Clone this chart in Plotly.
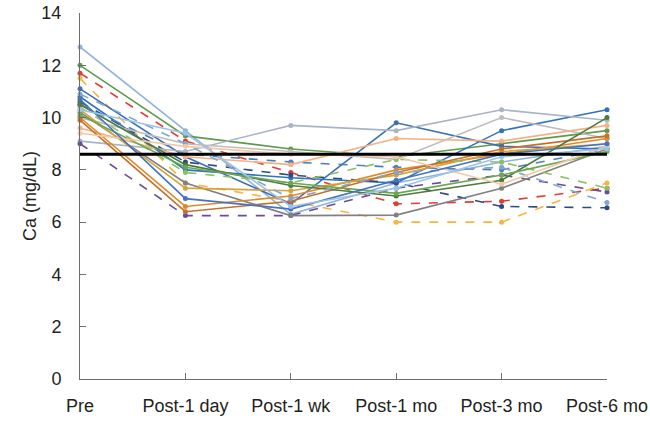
import plotly.graph_objects as go

categories = ["Pre", "Post-1 day", "Post-1 wk", "Post-1 mo", "Post-3 mo", "Post-6 mo"]
y_ticks = [0, 2, 4, 6, 8, 10, 12, 14]
reference_value = 8.6

s01 = [12.7, 9.5, 6.3, 7.5, 8.3, 8.9]
s02 = [12.0, 9.3, 8.8, 8.5, 9.0, 9.5]
s03 = [11.7, 9.1, 7.9, 6.7, 6.8, 7.3]
s04 = [11.5, 7.5, 6.8, 6.0, 6.0, 7.5]
s05 = [11.1, 8.5, 6.7, 9.8, 8.9, 8.8]
s06 = [10.8, 8.0, 7.7, 7.5, 9.5, 10.3]
s07 = [10.6, 8.3, 7.8, 7.5, 6.6, 6.55]
s08 = [10.5, 8.6, 8.3, 8.1, 8.0, 8.8]
s09 = [9.1, 8.7, 9.7, 9.5, 10.3, 9.9]
s10 = [10.0, 9.0, 8.7, 8.4, 10.0, 9.2]
s11 = [9.6, 8.5, 8.2, 9.2, 9.1, 9.7]
s12 = [9.0, 6.25, 6.25, 7.3, 7.8, 7.15]
s13 = [10.2, 7.5, 6.25, 6.27, 7.3, 8.8]
s14 = [10.0, 6.6, 7.0, 8.0, 8.6, 9.2]
s15 = [10.3, 7.3, 7.2, 7.8, 8.7, 9.0]
s16 = [9.9, 6.4, 6.8, 7.9, 8.8, 9.3]
s17 = [10.4, 7.9, 7.5, 8.4, 8.3, 7.3]
s18 = [10.5, 8.2, 7.4, 7.0, 7.6, 10.0]
s19 = [10.9, 9.0, 6.9, 7.9, 8.1, 6.75]
s20 = [10.1, 8.1, 7.5, 7.1, 7.8, 8.7]
s21 = [9.4, 8.9, 8.6, 8.5, 7.45, 8.9]
s22 = [10.7, 6.9, 6.5, 7.6, 8.6, 9.0]
s23 = [10.3, 9.4, 6.6, 7.3, 8.5, 8.8]

series = [
    (s01, "#8fb3d9", "solid"),
    (s02, "#5f9a4a", "solid"),
    (s03, "#e03c31", "dash"),
    (s04, "#f5b53f", "dash"),
    (s05, "#3b6fb6", "solid"),
    (s06, "#2f72c0", "solid"),
    (s07, "#2b4c7e", "dash"),
    (s08, "#4a7fc0", "dash"),
    (s09, "#a9b4c4", "solid"),
    (s10, "#bdbdbd", "solid"),
    (s11, "#f4b183", "solid"),
    (s12, "#6b4c9a", "dash"),
    (s13, "#808080", "solid"),
    (s14, "#e0892a", "solid"),
    (s15, "#d6a23a", "solid"),
    (s16, "#c8702a", "solid"),
    (s17, "#8cc068", "dash"),
    (s18, "#4e7a3a", "solid"),
    (s19, "#7fa7d0", "dash"),
    (s20, "#6aa84f", "solid"),
    (s21, "#f2c9a8", "solid"),
    (s22, "#4472c4", "solid"),
    (s23, "#9dc3e6", "solid"),
]

x = list(range(len(categories)))
fig = go.Figure()
for vals, col, dash in series:
    fig.add_trace(go.Scatter(
        x=x, y=vals, mode="lines+markers",
        line=dict(color=col, width=1.6, dash=dash),
        marker=dict(color=col, size=5),
        showlegend=False, hoverinfo="skip", cliponaxis=False,
    ))

fig.add_trace(go.Scatter(
    x=[x[0], x[-1]], y=[reference_value, reference_value], mode="lines",
    line=dict(color="black", width=3), showlegend=False, hoverinfo="skip",
))

fig.update_layout(
    width=650, height=421,
    margin=dict(l=80, r=43, t=13, b=42),
    paper_bgcolor="white", plot_bgcolor="white",
    font=dict(family="Liberation Sans, Arial, sans-serif", size=18, color="#231f20"),
    xaxis=dict(
        range=[0, 5], tickmode="array", tickvals=x, ticktext=categories,
        showgrid=False, zeroline=False, showline=True, linecolor="#6d6d6d", linewidth=1,
        ticks="inside", ticklen=6, tickcolor="#6d6d6d", automargin=False,
        tickfont=dict(size=18), ticklabelstandoff=10,
    ),
    yaxis=dict(
        range=[0, 14], tickmode="array", tickvals=y_ticks,
        showgrid=False, zeroline=False, showline=True, linecolor="#6d6d6d", linewidth=1,
        ticks="inside", ticklen=6, tickcolor="#6d6d6d", automargin=False,
        tickfont=dict(size=18), ticklabelstandoff=14,
    ),
    annotations=[dict(
        text="Ca (mg/dL)", textangle=-90, showarrow=False,
        xref="paper", yref="paper", x=(30 - 80) / 527, y=0.5,
        xanchor="center", yanchor="middle", font=dict(size=18),
    )],
)

fig.write_html("out.html", config={"displayModeBar": False},
               post_script="document.body.style.margin='0';")
